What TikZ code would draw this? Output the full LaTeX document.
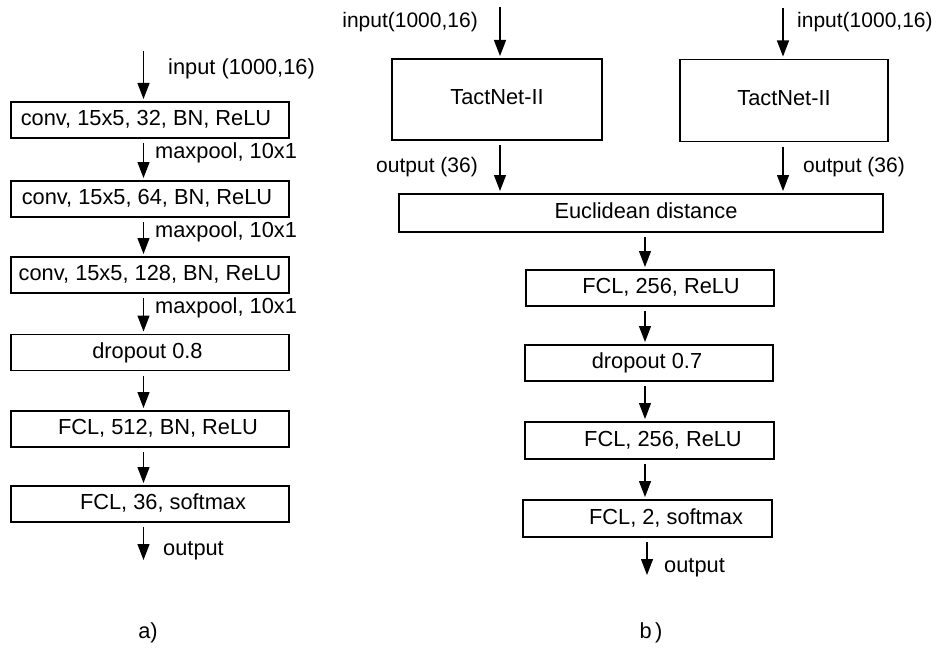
\documentclass[tikz,border=0pt]{standalone}
\usepackage{fontspec}
\setmainfont{Liberation Sans}
\usetikzlibrary{arrows.meta}
\begin{document}
\begin{tikzpicture}[x=1pt,y=-1pt,
  every node/.style={font=\fontsize{21.8}{26}\selectfont, inner sep=0pt,
    text height=15.5pt, text depth=4.5pt},
  iolabel/.style={font=\fontsize{21}{25}\selectfont},
  layer/.style={draw, line width=1.9pt, minimum height=36pt, outer sep=3pt},
  arr/.style={-{Triangle[length=16pt,width=12pt]}, line width=1.2pt, shorten <=2pt}]
\useasboundingbox (0,0) rectangle (936,650);

% ---------------- a) single network ----------------
\coordinate (lx) at (143.5,0);
\coordinate (inA) at (143.5,51);
\coordinate (outA) at (143.5,560);

\node[layer, minimum width=278pt] (c1) at (150,120) {\hspace*{-8pt}conv, 15x5, 32, BN, ReLU};
\node[layer, minimum width=278pt] (c2) at (150,199) {\hspace*{-6pt}conv, 15x5, 64, BN, ReLU};
\node[layer, minimum width=278pt] (c3) at (150,275) {conv, 15x5, 128, BN, ReLU};
\node[layer, minimum width=278pt] (d8) at (150,352.5) {\hspace*{-5pt}dropout 0.8};
\node[layer, minimum width=278pt] (f512) at (150,429) {\hspace*{16pt}FCL, 512, BN, ReLU};
\node[layer, minimum width=278pt] (f36) at (150,504) {\hspace*{26pt}FCL, 36, softmax};

\draw[arr, shorten <=0pt] (inA) -- (c1.north -| lx);
\draw[arr] (c1.south -| lx) -- (c2.north -| lx);
\draw[arr] (c2.south -| lx) -- (c3.north -| lx);
\draw[arr] (c3.south -| lx) -- (d8.north -| lx);
\draw[arr] (d8.south -| lx) -- (f512.north -| lx);
\draw[arr] (f512.south -| lx) -- (f36.north -| lx);
\draw[arr] (f36.south -| lx) -- (outA);

\node[anchor=west] (tinA) at (168,69) {input (1000,16)};
\node[anchor=west] (mp1) at (155,153) {maxpool, 10x1};
\node[anchor=west] (mp2) at (155,232) {maxpool, 10x1};
\node[anchor=west] (mp3) at (155,308) {maxpool, 10x1};
\node[anchor=west] (toutA) at (163,550) {output};
\node (capA) at (148,633) {a)};

% ---------------- b) siamese network ----------------
\coordinate (rx) at (645,0);
\coordinate (inL) at (500,7);
\coordinate (inR) at (783,8);
\coordinate (outB) at (647,575);

\node[layer, minimum width=210pt, minimum height=81pt] (tnL) at (497,99.5) {TactNet-II};
\node[layer, minimum width=208pt, minimum height=82pt] (tnR) at (784,100.5) {TactNet-II};
\node[layer, minimum width=484pt, minimum height=38pt] (eu) at (641,213) {\hspace*{10pt}Euclidean distance};
\node[layer, minimum width=248pt] (g1) at (650,288) {\hspace*{22pt}FCL, 256, ReLU};
\node[layer, minimum width=248pt] (d7) at (649,363) {\hspace*{-4pt}dropout 0.7};
\node[layer, minimum width=249pt, minimum height=37pt] (g2) at (649.5,440.5) {\hspace*{27pt}FCL, 256, ReLU};
\node[layer, minimum width=249pt, minimum height=37pt] (g3) at (647.5,518.5) {\hspace*{37pt}FCL, 2, softmax};

\draw[arr, shorten <=0pt] (inL) -- (tnL.north -| inL);
\draw[arr, shorten <=0pt] (inR) -- (tnR.north -| inR);
\draw[arr] (tnL.south -| inL) -- (eu.north -| inL);
\draw[arr] (tnR.south -| inR) -- (eu.north -| inR);
\draw[arr] (eu.south -| rx) -- (g1.north -| rx);
\draw[arr] (g1.south -| rx) -- (d7.north -| rx);
\draw[arr] (d7.south -| rx) -- (g2.north -| rx);
\draw[arr] (g2.south -| rx) -- (g3.north -| rx);
\draw[arr] (g3.south -| outB) -- (outB);

\node[iolabel, anchor=east] (tinL) at (478,22) {input(1000,16)};
\node[iolabel, anchor=west] (tinR) at (797,22) {input(1000,16)};
\node[iolabel, anchor=east] (toutL) at (478,167) {output (36)};
\node[iolabel, anchor=west] (toutR) at (803,167) {output (36)};
\node[anchor=west] (toutB) at (664,567) {output};
\node (capB) at (651,633) {b\,)};
\end{tikzpicture}
\end{document}
